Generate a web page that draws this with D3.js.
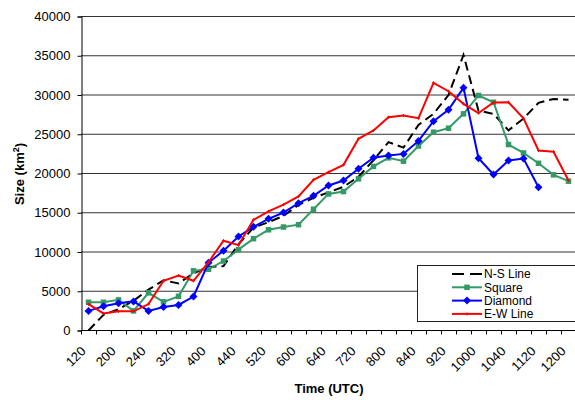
<!DOCTYPE html>
<html>
<head>
<meta charset="utf-8">
<script src="https://cdn.jsdelivr.net/npm/d3@7"></script>
<style>
  body { margin: 0; background: #fff; }
  text { font-family: "Liberation Sans", Arial, sans-serif; }
</style>
</head>
<body>
<div id="wrapper"></div>
<script>

// data
const times = ["120","140","200","220","240","300","320","340","400","420","440",
  "500","520","540","600","620","640","700","720","740","800","820","840",
  "900","920","940","1000","1020","1040","1100","1120","1140","1200"]

const nsLine = [0, 2000, 2700, 3800, 5200, 6400, 6000, 7300, 8100, 8200, 11000,
  13100, 13800, 14600, 16000, 16900, 17600, 18300, 19600, 21700, 24000, 23300,
  26200, 27600, 30000, 35100, 28000, 27600, 25500, 27000, 29000, 29500, 29400]

const square = [3600, 3600, 3900, 2500, 4800, 3650, 4350, 7600, 7800, 8850, 10300,
  11700, 12830, 13180, 13480, 15450, 17400, 17700, 19320, 20900, 22000, 21570,
  23500, 25260, 25770, 27600, 29940, 29080, 23690, 22620, 21300, 19830, 19020]

const diamond = [2500, 3080, 3480, 3710, 2500, 3000, 3250, 4330, 8620, 10170, 11980,
  13210, 14230, 15030, 16220, 17150, 18470, 19110, 20600, 22000, 22290, 22500,
  24150, 26660, 28110, 30910, 21950, 19870, 21660, 21900, 18250, null, null]

const ewLine = [3350, 2180, 2440, 2440, 3370, 6330, 7000, 6330, 8700, 11440, 10870,
  14100, 15180, 16030, 17090, 19200, 20170, 21100, 24420, 25480, 27170, 27390,
  27040, 31550, 30480, 28870, 27700, 29040, 29060, 27030, 22930, 22780, 19100]

const yTicks = [0, 5000, 10000, 15000, 20000, 25000, 30000, 35000, 40000]

const series = [
  { name: "N-S Line", values: nsLine, color: "#000000", dash: "9,5", marker: "none" },
  { name: "Square", values: square, color: "#339966", dash: null, marker: "square" },
  { name: "Diamond", values: diamond, color: "#0000ff", dash: null, marker: "diamond" },
  { name: "E-W Line", values: ewLine, color: "#ff0000", dash: null, marker: "plus" },
]


// dimensions
const dimensions = {
  width: 575,
  height: 400,
  plotLeft: 81,
  plotRight: 576,
  plotTop: 16.5,
  plotBottom: 330.5,
}

const svg = d3.select("#wrapper")
  .append("svg")
    .attr("width", dimensions.width)
    .attr("height", dimensions.height)


// scales
const xScale = d3.scaleBand()
  .domain(times)
  .range([dimensions.plotLeft, dimensions.plotRight])
const cx = t => xScale(t) + xScale.bandwidth() / 2

const yScale = d3.scaleLinear()
  .domain([0, 40000])
  .range([dimensions.plotBottom, dimensions.plotTop])


// gridlines
svg.append("g")
  .selectAll("line")
  .data(yTicks.slice(1))
  .join("line")
    .attr("x1", dimensions.plotLeft)
    .attr("x2", dimensions.plotRight)
    .attr("y1", d => yScale(d))
    .attr("y2", d => yScale(d))
    .attr("stroke", "#333")
    .attr("stroke-width", 1)


// y axis
const yAxis = svg.append("g")
    .attr("transform", `translate(${dimensions.plotLeft + 0.5},0)`)
    .call(d3.axisLeft(yScale)
      .tickValues(yTicks)
      .tickSize(4)
      .tickPadding(7)
      .tickFormat(d3.format("d")))
yAxis.select(".domain").attr("stroke", "#000")
yAxis.selectAll("text")
    .attr("font-size", 13)
    .attr("fill", "#000")
    .attr("font-family", "Liberation Sans, Arial, sans-serif")


// x axis: ticks on category boundaries, labels every other category
const xAxis = svg.append("g")
xAxis.append("line")
    .attr("x1", dimensions.plotLeft)
    .attr("x2", dimensions.plotRight)
    .attr("y1", dimensions.plotBottom)
    .attr("y2", dimensions.plotBottom)
    .attr("stroke", "#000")
xAxis.selectAll(".tick")
  .data(times)
  .join("line")
    .attr("class", "tick")
    .attr("x1", d => Math.round(xScale(d)) + 0.5)
    .attr("x2", d => Math.round(xScale(d)) + 0.5)
    .attr("y1", dimensions.plotBottom)
    .attr("y2", dimensions.plotBottom + 4)
    .attr("stroke", "#000")
xAxis.selectAll(".lbl")
  .data(times.filter((d, i) => i % 2 == 0))
  .join("text")
    .attr("class", "lbl")
    .attr("transform", d => `translate(${cx(d) - 2},${352}) rotate(-45)`)
    .attr("text-anchor", "end")
    .attr("font-size", 13)
    .text(d => d)


// axis titles
svg.append("text")
    .attr("x", 329)
    .attr("y", 393)
    .attr("text-anchor", "middle")
    .attr("font-size", 13)
    .attr("font-weight", "bold")
    .text("Time (UTC)")

const yTitle = svg.append("text")
    .attr("transform", "translate(24,174) rotate(-90)")
    .attr("text-anchor", "middle")
    .attr("font-size", 13)
    .attr("font-weight", "bold")
yTitle.append("tspan").text("Size (km")
yTitle.append("tspan").attr("font-size", 9).attr("dy", -5).text("2")
yTitle.append("tspan").attr("dy", 5).text(")")


// lines and markers
const lineGen = d3.line()
  .defined(d => d.v != null)
  .x(d => cx(d.t))
  .y(d => yScale(d.v))

function drawMarker(g, type, x, y, color) {
  if (type == "square") {
    g.append("rect")
        .attr("x", x - 2.75).attr("y", y - 2.75)
        .attr("width", 5.5).attr("height", 5.5)
        .attr("fill", color)
  } else if (type == "diamond") {
    g.append("path")
        .attr("d", `M${x},${y - 4}L${x + 4},${y}L${x},${y + 4}L${x - 4},${y}Z`)
        .attr("fill", color)
  } else if (type == "plus") {
    g.append("path")
        .attr("d", `M${x - 1.5},${y}H${x + 1.5}M${x},${y - 1.5}V${y + 1.5}`)
        .attr("stroke", color)
        .attr("stroke-width", 1)
  }
}

const plot = svg.append("g")
series.forEach(s => {
  const pts = times.map((t, i) => ({ t: t, v: s.values[i] }))
  const g = plot.append("g")
  g.append("path")
      .attr("d", lineGen(pts))
      .attr("fill", "none")
      .attr("stroke", s.color)
      .attr("stroke-width", 2)
      .attr("stroke-dasharray", s.dash)
  pts.filter(d => d.v != null)
    .forEach(d => drawMarker(g, s.marker, cx(d.t), yScale(d.v), s.color))
})


// legend
const legend = svg.append("g")
legend.append("rect")
    .attr("x", 417.5)
    .attr("y", 265.5)
    .attr("width", 170)
    .attr("height", 56)
    .attr("fill", "#fff")
    .attr("stroke", "#222")
series.forEach((s, i) => {
  const y = 274 + i * 13.3
  legend.append("line")
      .attr("x1", 452).attr("x2", 482)
      .attr("y1", y).attr("y2", y)
      .attr("stroke", s.color)
      .attr("stroke-width", 2)
      .attr("stroke-dasharray", s.dash ? "12,6" : null)
  drawMarker(legend, s.marker, 467, y, s.color)
  legend.append("text")
      .attr("x", 484)
      .attr("y", y + 4.3)
      .attr("font-size", 12)
      .text(s.name)
})

</script>
</body>
</html>
